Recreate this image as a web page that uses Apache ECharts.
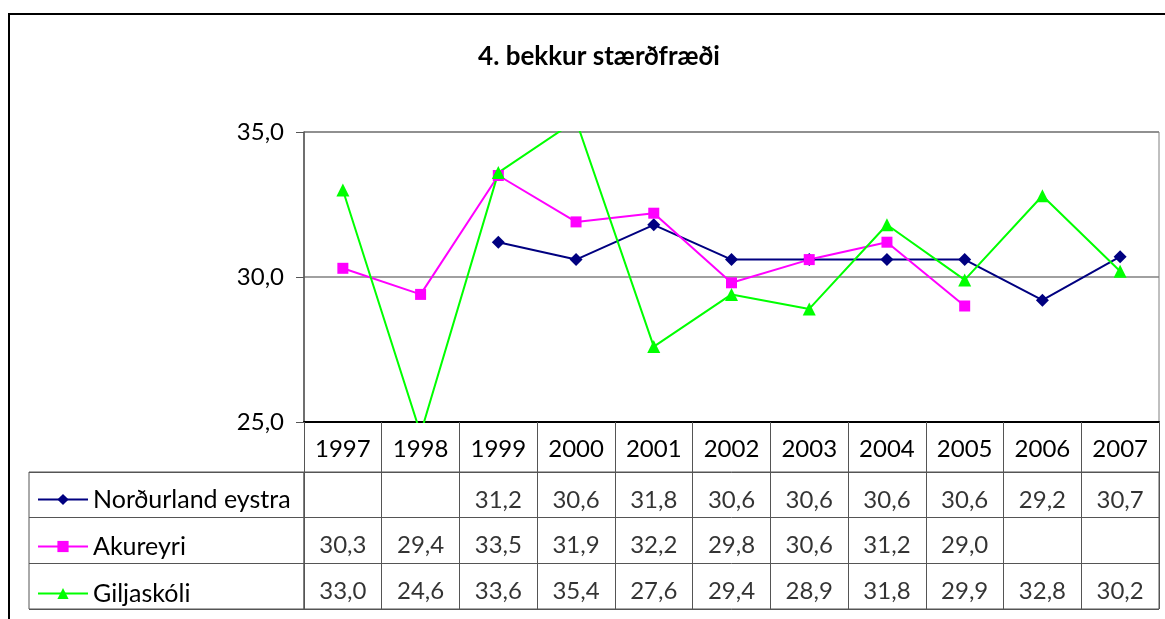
<!DOCTYPE html>
<html>
<head>
<meta charset="utf-8">
<title>4. bekkur stærðfræði</title>
<script src="https://cdn.jsdelivr.net/npm/echarts@6/dist/echarts.min.js"></script>
<style>
  html, body { margin: 0; padding: 0; background: #fff; }
  #chart { width: 1165px; height: 619px; }
</style>
</head>
<body>
<div id="chart"></div>
<script>
// data
var years = ['1997', '1998', '1999', '2000', '2001', '2002', '2003', '2004', '2005', '2006', '2007'];
var seriesNames = ['Norðurland eystra', 'Akureyri', 'Giljaskóli'];
var nordurland = [null, null, 31.2, 30.6, 31.8, 30.6, 30.6, 30.6, 30.6, 29.2, 30.7];
var akureyri = [30.3, 29.4, 33.5, 31.9, 32.2, 29.8, 30.6, 31.2, 29.0, null, null];
var giljaskoli = [33.0, 24.6, 33.6, 35.4, 27.6, 29.4, 28.9, 31.8, 29.9, 32.8, 30.2];
var yTicks = [25, 30, 35];

var font = 'Lato, "Open Sans", sans-serif';
var fmt = function (v) { return v.toFixed(1).replace('.', ','); };

// cells of the data table
var allValues = [nordurland, akureyri, giljaskoli];
var tableCells = [];
for (var s = 0; s < allValues.length; s++) {
  for (var i = 0; i < years.length; i++) {
    if (allValues[s][i] != null) tableCells.push([i, seriesNames[s], allValues[s][i]]);
  }
}

var chart = echarts.init(document.getElementById('chart'));
var option = {
  animation: false,
  backgroundColor: '#fff',
  title: {
    text: '4. bekkur stærðfræði',
    left: 594, top: 39, textAlign: 'center',
    textStyle: { fontFamily: font, fontSize: 26, fontWeight: 'bold', color: '#000' }
  },
  legend: {
    data: seriesNames,
    orient: 'vertical',
    left: 37, top: 487,
    padding: 0,
    itemWidth: 50, itemHeight: 14, itemGap: 22,
    textStyle: { fontFamily: font, fontSize: 25, lineHeight: 24, color: '#000' }
  },
  graphic: [{
    type: 'rect',
    shape: { x: 9, y: 14, width: 1300, height: 700 },
    style: { fill: 'none', stroke: '#000', lineWidth: 2 },
    silent: true
  }],
  grid: [
    // plot
    { left: 304, top: 132, width: 855, height: 290, show: true, borderColor: '#808080', borderWidth: 1 },
    // table values
    { left: 304, top: 472, width: 855, height: 137, show: true, borderColor: '#555', borderWidth: 1 },
    // table legend column
    { left: 29, top: 472, width: 275, height: 137, show: true, borderColor: '#555', borderWidth: 1 }
  ],
  xAxis: [
    {
      gridIndex: 0, type: 'category', data: years, boundaryGap: true,
      axisLine: { lineStyle: { color: '#000', width: 2 } },
      axisTick: { show: true, inside: false, length: 50, lineStyle: { color: '#555', width: 1 } },
      axisLabel: { margin: 15, fontFamily: font, fontSize: 24, color: '#000' }
    },
    {
      gridIndex: 1, type: 'category', data: years, boundaryGap: true,
      axisLine: { show: false }, axisTick: { show: false }, axisLabel: { show: false },
      splitLine: { show: true, lineStyle: { color: '#555', width: 1 } }
    },
    {
      gridIndex: 2, type: 'category', data: ['x'], show: false
    }
  ],
  yAxis: [
    {
      gridIndex: 0, type: 'value', min: yTicks[0], max: yTicks[yTicks.length - 1], interval: 5,
      axisLine: { show: true, lineStyle: { color: '#555', width: 1.5 } },
      axisTick: { show: true, inside: false, length: 8, lineStyle: { color: '#555' } },
      axisLabel: { margin: 20, fontFamily: font, fontSize: 24, color: '#000', formatter: fmt },
      splitLine: { show: true, lineStyle: { color: '#808080', width: 1.5 } }
    },
    {
      gridIndex: 1, type: 'category', data: seriesNames, inverse: true, boundaryGap: true,
      axisLine: { show: false }, axisTick: { show: false }, axisLabel: { show: false },
      splitLine: { show: true, lineStyle: { color: '#555', width: 1 } }
    },
    {
      gridIndex: 2, type: 'category', data: seriesNames, inverse: true, boundaryGap: true,
      axisLine: { show: false }, axisTick: { show: false }, axisLabel: { show: false },
      splitLine: { show: true, lineStyle: { color: '#555', width: 1 } }
    }
  ],
  series: [
    {
      name: seriesNames[0], type: 'line', data: nordurland,
      symbol: 'diamond', symbolSize: 13,
      itemStyle: { color: '#000080' }, lineStyle: { color: '#000080', width: 2 }
    },
    {
      name: seriesNames[1], type: 'line', data: akureyri,
      symbol: 'rect', symbolSize: 11,
      itemStyle: { color: '#ff00ff' }, lineStyle: { color: '#ff00ff', width: 2 }
    },
    {
      name: seriesNames[2], type: 'line', data: giljaskoli,
      symbol: 'triangle', symbolSize: 13,
      itemStyle: { color: '#00ff00' }, lineStyle: { color: '#00ff00', width: 2 }
    },
    {
      name: 'table', type: 'scatter', xAxisIndex: 1, yAxisIndex: 1,
      data: tableCells, symbolSize: 1, itemStyle: { color: 'rgba(0,0,0,0)' },
      label: {
        show: true, position: 'inside', offset: [0, 5],
        fontFamily: font, fontSize: 24, color: '#000',
        formatter: function (p) { return fmt(p.value[2]); }
      }
    }
  ]
};
chart.setOption(option);
</script>
</body>
</html>
